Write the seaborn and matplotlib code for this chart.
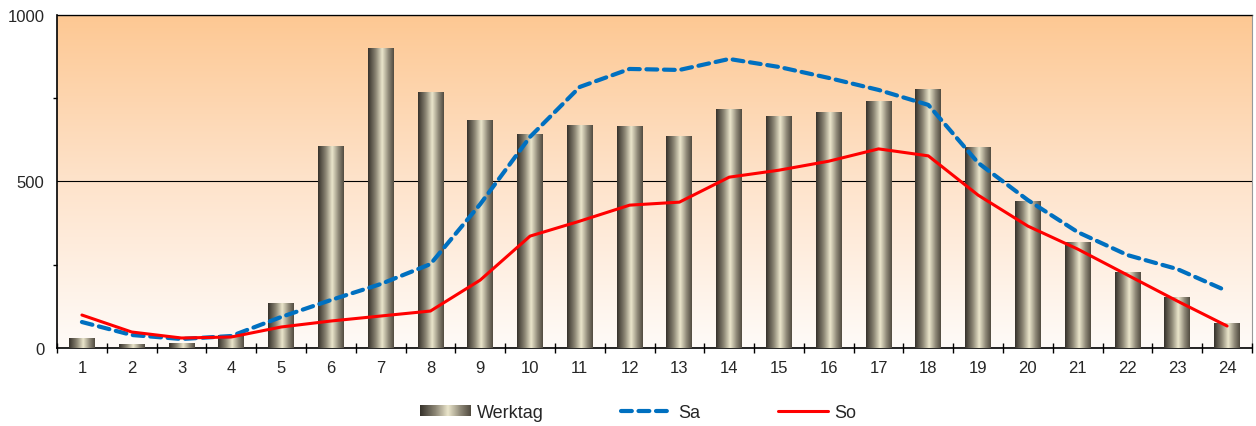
import numpy as np
import pandas as pd
import matplotlib
matplotlib.use("Agg")
import matplotlib.pyplot as plt
import seaborn as sns
from matplotlib.colors import LinearSegmentedColormap
from matplotlib.patches import Rectangle
from matplotlib.lines import Line2D
from matplotlib.ticker import MultipleLocator, FixedLocator

# data
hours = [str(h) for h in range(1, 25)]
werktag = [30, 12, 15, 38, 135, 604, 898, 766, 682, 640, 667, 664,
           634, 715, 694, 706, 739, 775, 601, 441, 318, 228, 153, 75]
sa = [78, 39, 27, 36, 93, 144, 192, 252, 432, 634, 784, 838,
      835, 868, 844, 811, 775, 730, 556, 444, 348, 279, 237, 171]
so = [99, 48, 30, 33, 63, 81, 96, 111, 204, 336, 381, 429,
      438, 513, 534, 561, 598, 577, 459, 366, 297, 219, 141, 66]
series_names = ["Werktag", "Sa", "So"]

sns.set_theme(style="white")
plt.rcParams["font.family"] = ["Liberation Sans", "DejaVu Sans"]

fig = plt.figure(figsize=(12.56, 4.27), dpi=100)
ax = fig.add_axes([0.0454, 0.1827, 0.9514, 0.7798])

df = pd.DataFrame({"hour": hours, "werktag": werktag})
sns.barplot(data=df, x="hour", y="werktag", order=hours, width=0.52,
            color="#8a8474", ax=ax, zorder=3)

# gradient fill for each bar
bar_cmap = LinearSegmentedColormap.from_list(
    "bar", [(0.0, "#37332c"), (0.3, "#8c8675"), (0.55, "#ebe6cc"),
            (0.8, "#8f8978"), (1.0, "#524c41")])
grad = np.linspace(0, 1, 64).reshape(1, -1)
for p in list(ax.patches):
    x0, w, h = p.get_x(), p.get_width(), p.get_height()
    ax.imshow(grad, extent=[x0, x0 + w, 0, h], aspect="auto",
              cmap=bar_cmap, zorder=3, interpolation="bilinear")
    p.set_visible(False)

pos = np.arange(len(hours))
sns.lineplot(x=pos, y=sa, ax=ax, color="#0070c0", lw=3.0,
             linestyle=(0, (2.6, 1.6)), dash_capstyle="round", zorder=5)
sns.lineplot(x=pos, y=so, ax=ax, color="#ff0000", lw=2.2, zorder=6)

# background gradient
bg_cmap = LinearSegmentedColormap.from_list(
    "bg", ["#fffbf8", "#fee3cb", "#fdc893"])
ax.imshow(np.linspace(0, 1, 256).reshape(-1, 1), extent=[-0.5, 23.5, 0, 1000],
          origin="lower", aspect="auto", cmap=bg_cmap, zorder=0)

ax.set_xlim(-0.5, 23.5)
ax.set_ylim(0, 1000)
ax.set_xlabel("")
ax.set_ylabel("")

ax.yaxis.set_major_locator(MultipleLocator(500))
ax.yaxis.set_minor_locator(MultipleLocator(250))
ax.yaxis.grid(True, which="major", color="#000000", lw=0.8)
ax.set_axisbelow(False)
for gl in ax.get_ygridlines():
    gl.set_zorder(1)
ax.tick_params(axis="y", which="major", direction="out", length=5, width=1,
               color="#000000", labelsize=12, pad=4)
ax.tick_params(axis="y", which="minor", direction="out", length=3, width=1,
               color="#000000", left=True)

ax.set_xticks(pos)
ax.set_xticklabels(hours)
ax.xaxis.set_minor_locator(FixedLocator(np.arange(-0.5, 24.5, 1)))
ax.tick_params(axis="x", which="major", length=0, labelsize=12, pad=9)
ax.tick_params(axis="x", which="minor", direction="inout", length=7, width=1,
               color="#000000", bottom=True)

for side in ["left", "bottom"]:
    ax.spines[side].set_color("#000000")
    ax.spines[side].set_linewidth(1.2)
ax.spines["top"].set_color("#333333")
ax.spines["top"].set_linewidth(1.0)
ax.spines["right"].set_color("#999999")
ax.spines["right"].set_linewidth(0.8)

# legend
handles = [Rectangle((0, 0), 1, 1, facecolor="#8a8474", edgecolor="none"),
           Line2D([], [], color="#0070c0", lw=3.0, linestyle=(0, (2.6, 1.6)),
                  dash_capstyle="round"),
           Line2D([], [], color="#ff0000", lw=2.2)]
leg = fig.legend(handles, series_names, loc="center", ncol=3,
                 bbox_to_anchor=(0.508, 0.032), frameon=False, fontsize=13,
                 handlelength=2.8, handleheight=0.55, columnspacing=4.3,
                 handletextpad=0.35)

fig.canvas.draw()
patch = leg.get_patches()[0]
bb = patch.get_window_extent().transformed(fig.transFigure.inverted())
lax = fig.add_axes([bb.x0, bb.y0, bb.width, bb.height])
lax.imshow(grad, aspect="auto", cmap=bar_cmap, interpolation="bilinear")
lax.axis("off")
patch.set_visible(False)

fig.savefig("out.png", dpi=100)
